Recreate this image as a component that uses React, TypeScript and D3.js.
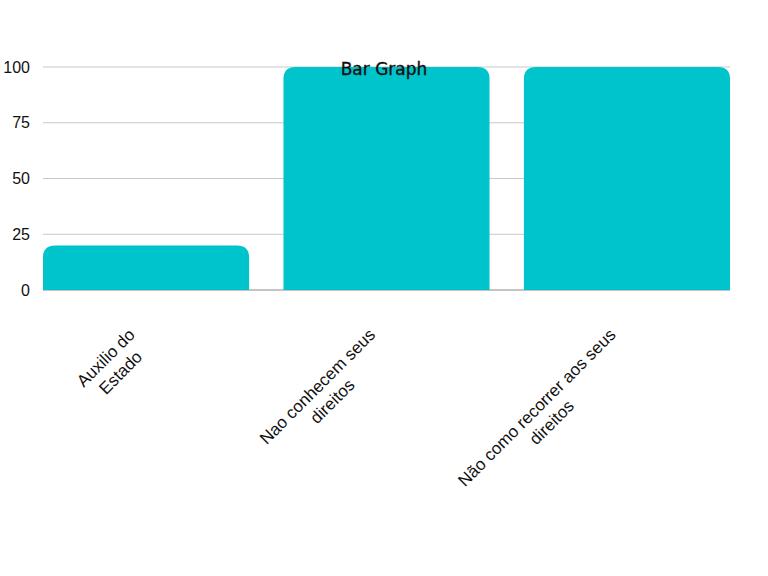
import React, { useEffect, useRef } from "react";
import * as d3 from "d3";

const categories = [
  ["Auxilio do", "Estado"],
  ["Nao conhecem seus", "direitos"],
  ["Não como recorrer aos seus", "direitos"],
];
const values = [20, 100, 100];
const yTicks = [0, 25, 50, 75, 100];

const W = 768;
const H = 576;
const margin = { top: 67, right: 38, bottom: 286, left: 43 };

export default function App() {
  const ref = useRef<SVGSVGElement>(null);

  useEffect(() => {
    if (!ref.current) return;
    const svg = d3.select(ref.current);
    svg.selectAll("*").remove();

    const x = d3
      .scaleBand<number>()
      .domain(d3.range(values.length))
      .range([margin.left, W - margin.right])
      .paddingInner(0.143)
      .paddingOuter(0);
    const y = d3.scaleLinear().domain([0, 100]).range([H - margin.bottom, margin.top]);

    // grid
    svg.append("g")
      .selectAll("line")
      .data(yTicks.filter((t) => t > 0))
      .enter()
      .append("line")
      .attr("x1", margin.left)
      .attr("x2", W - margin.right)
      .attr("y1", (d) => y(d))
      .attr("y2", (d) => y(d))
      .attr("stroke", "#c8c8c8")
      .attr("stroke-width", 1);

    // baseline
    svg.append("line")
      .attr("x1", margin.left)
      .attr("x2", W - margin.right)
      .attr("y1", y(0))
      .attr("y2", y(0))
      .attr("stroke", "#8a8a8a")
      .attr("stroke-width", 1);

    // y tick labels
    svg.append("g")
      .selectAll("text")
      .data(yTicks)
      .enter()
      .append("text")
      .attr("x", 30)
      .attr("y", (d) => y(d))
      .attr("dy", "0.35em")
      .attr("text-anchor", "end")
      .style("font-family", "'Liberation Sans', Arial, sans-serif")
      .style("font-size", "16px")
      .attr("fill", "#111")
      .text((d) => d);

    // bars with rounded tops
    const r = 12;
    svg.append("g")
      .selectAll("path")
      .data(values)
      .enter()
      .append("path")
      .attr("fill", "#00C4CC")
      .attr("d", (d, i) => {
        const x0 = x(i)!;
        const x1 = x0 + x.bandwidth();
        const y0 = y(0);
        const yt = y(d);
        const rr = Math.min(r, (y0 - yt) / 2);
        return `M${x0},${y0}V${yt + rr}Q${x0},${yt} ${x0 + rr},${yt}H${x1 - rr}Q${x1},${yt} ${x1},${yt + rr}V${y0}Z`;
      });

    // title
    svg.append("text")
      .attr("x", 384)
      .attr("y", 75)
      .attr("text-anchor", "middle")
      .style("font-family", "'DejaVu Sans', sans-serif")
      .style("font-size", "17px")
      .attr("fill", "#111")
      .attr("stroke", "#111")
      .attr("stroke-width", 0.35)
      .text("Bar Graph");

    // x labels, rotated, two centered lines
    const lineH = 21;
    categories.forEach((lines, i) => {
      const cx = x(i)! + x.bandwidth() / 2 - 7;
      const g = svg.append("g").attr("transform", `translate(${cx},339) rotate(-45)`);
      const t = g.append("text")
        .attr("text-anchor", "middle")
        .style("font-family", "'Liberation Sans', Arial, sans-serif")
        .style("font-size", "17px")
        .attr("fill", "#111");
      lines.forEach((ln, j) => {
        t.append("tspan")
          .attr("x", 0)
          .attr("y", (j - (lines.length - 1) / 2) * lineH)
          .attr("dy", "0.35em")
          .text(ln);
      });
      const w = (t.node() as SVGTextElement).getBBox().width;
      t.attr("transform", `translate(${-w / 2},0)`);
    });
  }, []);

  return (
    <div style={{ position: "absolute", left: 0, top: 0, width: W, height: H, background: "#fff" }}>
      <svg ref={ref} width={W} height={H} style={{ display: "block" }} />
    </div>
  );
}
